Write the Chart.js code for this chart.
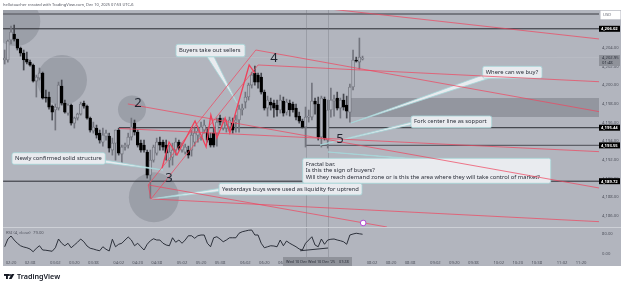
<!DOCTYPE html>
<html>
<head>
<meta charset="utf-8">
<style>
  html, body { margin: 0; padding: 0; background: #fff; }
  #wrap { width: 625px; height: 287px; position: relative; overflow: hidden; }
</style>
<script src="https://cdn.jsdelivr.net/npm/chart.js@4"></script>
</head>
<body>
<div id="wrap"><canvas id="chart" width="625" height="287"></canvas></div>
<script>
// 3 minute candles
const opens = [
  4202.68,4202.68,4204.82,4205.46,4204.92,4203.96,4203.42,4202.78,4202.46,4202.14,
  4200.43,4200.75,4201.28,4198.72,4198.72,4197.75,4197.33,4197.54,4199.89,4198.07,
  4197.00,4197.86,4195.93,4196.47,4196.90,4198.07,4197.75,4196.47,4195.08,4195.40,
  4194.86,4193.90,4194.54,4194.54,4193.05,4193.79,4195.19,4192.62,4193.37,4193.58,
  4194.44,4195.93,4194.97,4193.79,4193.58,4192.83,4190.37,4191.97,4192.72,4193.90,
  4193.90,4193.58,4191.97,4192.29,4193.05,4193.90,4193.05,4192.83,4193.05,4193.05,
  4193.90,4194.65,4194.44,4195.19,4194.97,4194.33,4194.86,4194.86,4196.47,4195.40,
  4195.40,4195.51,4195.93,4196.04,4196.26,4197.33,4198.18,4198.72,4200.00,4201.28,
  4201.07,4200.86,4199.25,4197.54,4198.18,4198.07,4197.86,4197.33,4198.29,4197.11,
  4198.07,4197.97,4197.54,4196.68,4196.15,4195.51,4196.58,4196.58,4198.29,4197.97,
  4194.44,4198.50,4194.12,4197.33,4198.29,4198.61,4197.54,4198.40,4197.86,4197.11,
  4199.79,4202.68,4202.46,4202.78
];
const highs = [
  4203.75,4204.82,4206.31,4206.42,4204.92,4204.07,4203.75,4203.53,4202.68,4202.25,
  4201.07,4201.82,4201.39,4199.47,4199.25,4197.86,4197.97,4200.32,4200.54,4198.40,
  4197.97,4197.97,4196.58,4197.00,4198.18,4198.29,4197.86,4196.58,4196.04,4195.72,
  4195.19,4195.40,4195.19,4194.86,4194.33,4195.19,4195.40,4193.58,4193.79,4194.86,
  4196.47,4196.26,4195.19,4194.12,4194.12,4193.05,4193.05,4193.58,4194.33,4194.44,
  4194.12,4194.12,4193.58,4193.79,4194.33,4194.12,4193.79,4193.69,4193.47,4195.19,
  4195.40,4195.51,4196.04,4196.26,4195.40,4194.86,4195.40,4196.47,4196.79,4196.47,
  4196.26,4196.58,4196.47,4196.79,4197.86,4197.97,4199.25,4200.21,4201.39,4202.03,
  4201.28,4201.28,4199.47,4198.82,4198.61,4198.40,4198.40,4198.93,4198.72,4198.50,
  4198.40,4198.18,4197.97,4197.11,4196.36,4197.65,4197.33,4200.21,4198.61,4198.72,
  4198.82,4198.72,4198.40,4199.68,4198.93,4199.25,4198.61,4199.04,4198.82,4200.11,
  4203.75,4202.99,4205.03,4203.10
];
const lows = [
  4202.25,4202.46,4204.39,4204.71,4203.75,4203.10,4201.61,4202.25,4202.03,4200.32,
  4198.72,4200.54,4198.50,4198.18,4197.43,4196.26,4195.19,4197.33,4197.86,4197.00,
  4196.79,4195.72,4195.40,4196.26,4196.79,4197.54,4196.36,4194.97,4194.86,4194.33,
  4193.79,4193.47,4194.12,4192.83,4192.51,4191.97,4192.51,4191.65,4193.05,4193.26,
  4194.12,4194.65,4193.37,4192.83,4192.83,4190.05,4187.91,4191.76,4192.51,4193.05,
  4193.05,4191.97,4191.22,4191.44,4192.51,4193.05,4192.83,4192.62,4192.19,4192.40,
  4193.47,4193.90,4194.12,4194.86,4193.90,4193.37,4193.37,4193.47,4195.72,4195.19,
  4194.97,4195.08,4194.86,4194.97,4194.97,4196.79,4197.54,4198.40,4199.68,4200.00,
  4199.68,4199.04,4197.33,4196.68,4197.33,4196.58,4196.68,4197.00,4196.68,4196.79,
  4196.68,4197.11,4196.26,4195.93,4195.40,4193.37,4196.04,4196.26,4196.90,4194.12,
  4193.37,4194.12,4193.26,4196.58,4196.68,4197.33,4196.47,4197.33,4196.47,4196.04,
  4199.47,4202.46,4201.71,4202.68
];
const closes = [
  4202.89,4204.71,4205.67,4204.92,4203.96,4203.42,4202.68,4202.46,4202.14,4200.43,
  4200.86,4201.28,4198.61,4198.61,4197.65,4197.11,4197.65,4200.00,4198.07,4197.11,
  4197.86,4195.93,4196.47,4196.90,4197.97,4197.75,4196.47,4195.19,4195.51,4194.65,
  4194.12,4194.65,4194.86,4193.26,4193.79,4195.19,4192.72,4193.37,4193.58,4194.44,
  4195.51,4194.97,4193.58,4193.05,4193.05,4190.37,4191.97,4193.37,4193.90,4193.58,
  4193.37,4192.72,4192.83,4193.05,4193.90,4193.26,4193.58,4193.37,4192.51,4194.65,
  4194.86,4195.08,4195.51,4195.72,4194.12,4193.58,4193.58,4196.04,4196.04,4196.04,
  4195.72,4196.26,4195.19,4196.26,4197.43,4197.54,4198.72,4200.00,4201.07,4200.32,
  4200.32,4199.25,4197.54,4198.40,4197.86,4197.54,4197.33,4198.40,4197.00,4198.18,
  4197.33,4197.33,4196.58,4196.15,4195.51,4196.58,4196.68,4198.29,4197.97,4194.44,
  4198.61,4194.33,4197.33,4198.40,4198.50,4197.54,4198.40,4197.65,4197.22,4199.79,
  4202.68,4202.57,4202.99,4202.89
];
const rsiValues = [
  29,60,72,56,43,33,28,25,20,9,
  23,33,16,15,13,11,25,60,43,33,
  43,25,36,47,60,49,32,23,20,16,
  13,29,19,12,59,29,39,43,56,68,
  56,33,43,29,16,39,53,61,56,56,
  43,36,33,65,47,56,43,56,73,73,
  63,73,76,76,43,29,65,69,60,49,
  56,65,65,65,83,89,92,95,96,76,
  76,43,25,29,33,32,29,56,33,52,
  43,36,29,20,16,43,56,69,36,29,
  60,39,56,59,60,56,53,49,39,76,
  80,83,81,79
];

// time axis, index of the candle the label sits under
const timeTicks = [2,8,16,22,28,36,42,48,56,62,68,76,82,88,116,122,128,136,142,148,156,162,168,176,182];
const timeLabels = ["02:20","02:38","03:02","03:20","03:38","04:02","04:20","04:38","05:02","05:20","05:38","06:02","06:20","06:38",
  "08:02","08:20","08:38","09:02","09:20","09:38","10:02","10:20","10:38","11:02","11:20"];
const priceTicks = [4186,4188,4190,4192,4194,4196,4198,4200,4202,4204];
const rsiTicks = [0,80];

// horizontal levels: [price, first candle index]
const levelBlack = [[4206.02,-0.5],[4195.44,36.1],[4189.72,-0.5]];
const levelGrey = [[4193.55,95.15]];
const levelTop = [[4207.6,-0.5]];
const priceTags = [4206.02,4195.44,4193.55,4189.72];
const lastPrice = 4202.95;
const axisEnd = 187.66;

// drawn trend lines, [[index, price], [index, price]]
const forkLines = [
  [[79.3,4203.75],[187.7,4197.16]],
  [[80,4202.15],[187.7,4200.36]],
  [[103.3,4208.11],[187.7,4204.93]],
  [[38.9,4197.98],[187.7,4188.99]],
  [[36.1,4195.36],[187.7,4192.88]],
  [[45.3,4189.32],[120.7,4184.82]],
  [[46.2,4187.82],[187.7,4185.39]],
  [[45.3,4189.32],[79.3,4203.75]],
  [[46.2,4187.82],[80,4202.15]],
  [[45.3,4189.32],[46.2,4187.82]]
];
const zigzag = [[49.7,4191.13],[51.9,4193.91],[54.4,4192.52],[60.1,4196.16],[63.6,4193.38],[65.1,4196.8],
  [67,4194.34],[69.6,4196.48],[71.1,4194.88],[77.2,4202.15],[79,4201.29]];
const rsiTrend = [[93.3,13],[102.1,24]];
const circles = [[3.5,4206.8,24.5],[18.1,4200.53,25],[40.2,4197.4,14],[47.1,4188.0,25]];
const zoneRange = [109,4198.61,4196.58];
const marker = [113.2,4185.25];
const rangeBars = [95.15,102.1];

const callouts = [
  { lines: ["Buyers take out sellers"], box: [176,44.3,245,56.7], base: [207,56.7,214,56.7], tip: [237,103] },
  { lines: ["Newly confirmed solid structure"], box: [12,152.7,105.3,164.3], base: [105,160,105,163], tip: [163,170] },
  { lines: ["Where can we buy?"], box: [482.7,66.3,542,78.3], base: [483,75,490,78], tip: [351,123] },
  { lines: ["Fork center line as sopport"], box: [411,116,491.7,127.7], base: [412,122,412,124.5], tip: [320,145] },
  { lines: ["Fractal bar.","Is this the sign of buyers?","Will they reach demand zone or is this the area where they will take control of market?"],
    box: [302.7,158.3,550.7,183.3], base: [405,158.5,412,158.5], tip: [328,152] },
  { lines: ["Yesterdays buys were used as liquidity for uptrend"], box: [219,183.3,362,195], base: [219,188.5,219,191.5], tip: [151,199] }
];
const waveNumbers = [["2",138,103],["3",169,178],["4",274,58],["5",340,139]];

const FONT = '"Noto Sans"';
const idx = opens.map((_, i) => i);

const levelSet = (list, color, width, order) => list.map(([price, start]) => ({
  type: "line",
  data: [{ x: start, y: price }, { x: axisEnd, y: price }],
  borderColor: color,
  borderWidth: width,
  pointRadius: 0,
  order,
}));

const segment = (pts, color, width, yAxisID) => ({
  type: "line",
  data: pts.map(([x, y]) => ({ x, y })),
  borderColor: color,
  borderWidth: width,
  pointRadius: 0,
  yAxisID: yAxisID || "y",
  order: 2,
});

const bodyDataset = {
  label: "bodies",
  data: idx.map((i) => ({ x: i, y: [opens[i], closes[i]] })),
  backgroundColor: idx.map((i) => (closes[i] >= opens[i] ? "#b2b5be" : "#000000")),
  borderColor: idx.map((i) => (closes[i] >= opens[i] ? "#6e7079" : "#000000")),
  borderWidth: 0.8,
  borderSkipped: false,
  barThickness: 2.8,
  grouped: false,
  order: 6,
};

const annotations = {
  id: "annotations",
  beforeDraw(chart) {
    const { ctx } = chart;
    ctx.save();
    ctx.fillStyle = "#ffffff";
    ctx.fillRect(0, 0, 625, 287);
    ctx.fillStyle = "#b2b5be";
    ctx.fillRect(3, 10, 618, 256);
    ctx.restore();
  },
  afterDatasetDraw(chart, args) {
    if (chart.data.datasets[args.index].label !== "bodies") return;
    const { ctx, scales, chartArea } = chart;
    ctx.save();
    // highlighted time range
    ctx.strokeStyle = "rgba(110,112,122,0.35)";
    ctx.lineWidth = 1;
    rangeBars.forEach((v) => {
      const x = Math.round(scales.x.getPixelForValue(v)) + 0.5;
      ctx.beginPath();
      ctx.moveTo(x, chartArea.top);
      ctx.lineTo(x, 266);
      ctx.stroke();
    });
    // pane separator
    ctx.strokeStyle = "#cdd0d6";
    ctx.beginPath();
    ctx.moveTo(3, 227.5);
    ctx.lineTo(621, 227.5);
    ctx.stroke();
    // callouts
    callouts.forEach((c) => {
      const [x0, y0, x1, y1] = c.box;
      ctx.fillStyle = "#e9ebef";
      ctx.strokeStyle = "#a5d6d8";
      ctx.lineWidth = 0.8;
      ctx.beginPath();
      ctx.moveTo(c.base[0], c.base[1]);
      ctx.lineTo(c.tip[0], c.tip[1]);
      ctx.lineTo(c.base[2], c.base[3]);
      ctx.closePath();
      ctx.fill();
      ctx.stroke();
      ctx.beginPath();
      ctx.roundRect(x0, y0, x1 - x0, y1 - y0, 2);
      ctx.fill();
      ctx.stroke();
      ctx.fillStyle = "#2a2e39";
      ctx.font = "5.8px " + FONT;
      ctx.textAlign = "left";
      ctx.textBaseline = "middle";
      const lineGap = 6.3;
      const startY = (y0 + y1) / 2 - ((c.lines.length - 1) * lineGap) / 2;
      c.lines.forEach((t, n) => ctx.fillText(t, x0 + 3, startY + n * lineGap));
    });
    ctx.restore();
  },
  afterDraw(chart) {
    const { ctx, scales } = chart;
    ctx.save();
    ctx.textBaseline = "middle";

    // wave numbers
    ctx.fillStyle = "#1e222d";
    ctx.font = "13px " + FONT;
    ctx.textAlign = "center";
    waveNumbers.forEach(([t, x, y]) => ctx.fillText(t, x, y));

    // price tags on the axis
    ctx.textAlign = "left";
    priceTags.forEach((p) => {
      const y = scales.y.getPixelForValue(p);
      ctx.fillStyle = "#000000";
      ctx.fillRect(599, y - 3, 21, 6);
      ctx.fillStyle = "#ffffff";
      ctx.font = "bold 4.2px " + FONT;
      ctx.fillText(p.toLocaleString("en-US", { minimumFractionDigits: 2 }), 601, y + 0.2);
    });
    const py = scales.y.getPixelForValue(lastPrice);
    ctx.fillStyle = "#8f929a";
    ctx.fillRect(599, py - 2.5, 21, 11);
    ctx.fillStyle = "#2a2e39";
    ctx.font = "4.2px " + FONT;
    ctx.fillText(lastPrice.toLocaleString("en-US", { minimumFractionDigits: 2 }), 602, py);
    ctx.fillText("01:48", 602, py + 5);

    // currency box
    ctx.fillStyle = "#ffffff";
    ctx.fillRect(600.5, 10.7, 20, 8.6);
    ctx.fillStyle = "#6a6d78";
    ctx.fillText("USD", 603, 15);

    // crosshair date tag
    ctx.fillStyle = "#8f929a";
    ctx.fillRect(283, 257, 69, 9);
    ctx.fillStyle = "#2a2e39";
    ctx.font = "3.8px " + FONT;
    ctx.fillText("Wed 10 Dec", 286, 262);
    ctx.fillText("Wed 10 Dec '25", 308, 262);
    ctx.fillText("07:28", 339, 262);

    // RSI legend
    ctx.fillStyle = "#50535e";
    ctx.font = "4.2px " + FONT;
    ctx.fillText("RSI (4, close)", 6, 232.6);
    ctx.fillText("79.00", 33, 232.6);

    // header
    ctx.fillStyle = "#50535e";
    ctx.font = "4px " + FONT;
    ctx.fillText("hellotoacher created with TradingView.com, Dec 10, 2025 07:53 UTC-6", 3, 5);

    // logo
    ctx.fillStyle = "#131722";
    ctx.fillRect(4, 274, 5, 1.9);
    ctx.fillRect(6, 274, 1.9, 5);
    ctx.beginPath();
    ctx.arc(10, 275, 1, 0, Math.PI * 2);
    ctx.fill();
    ctx.beginPath();
    ctx.moveTo(11.6, 274);
    ctx.lineTo(14.4, 274);
    ctx.lineTo(11.6, 279);
    ctx.lineTo(8.8, 279);
    ctx.closePath();
    ctx.fill();
    ctx.font = "600 7.2px " + FONT;
    ctx.fillText("TradingView", 17, 276.8);
    ctx.restore();
  },
};

new Chart(document.getElementById("chart"), {
  type: "bar",
  data: {
    datasets: [
      {
        type: "bubble",
        data: circles.map(([x, y, r]) => ({ x, y, r })),
        backgroundColor: "rgba(125,128,139,0.42)",
        borderWidth: 0,
        order: 10,
      },
      {
        type: "line",
        data: [{ x: zoneRange[0], y: zoneRange[1] }, { x: axisEnd, y: zoneRange[1] }],
        borderWidth: 0,
        pointRadius: 0,
        fill: { value: zoneRange[2] },
        backgroundColor: "rgba(105,107,117,0.42)",
        order: 9,
      },
      ...levelSet([[lastPrice, -0.5]], "rgba(196,199,206,0.6)", 0.6, 8),
      ...levelSet(levelTop, "#75777f", 2, 8),
      ...levelSet(levelBlack, "#2a2c33", 1, 8),
      ...levelSet(levelGrey, "#5f6169", 1.4, 8),
      {
        label: "wicks",
        data: idx.map((i) => ({ x: i, y: [lows[i], highs[i]] })),
        backgroundColor: idx.map((i) => (closes[i] >= opens[i] ? "#73757e" : "#45474e")),
        barThickness: 1,
        grouped: false,
        order: 7,
      },
      bodyDataset,
      ...forkLines.map((l) => segment(l, "rgba(240,70,95,0.8)", 0.9)),
      segment(zigzag, "#f0405a", 1.3),
      {
        type: "line",
        data: rsiValues.map((v, i) => ({ x: i, y: v })),
        yAxisID: "yRsi",
        borderColor: "#1e222d",
        borderWidth: 0.9,
        pointRadius: 0,
        order: 2,
      },
      segment(rsiTrend, "#1e222d", 0.9, "yRsi"),
      {
        type: "scatter",
        data: [{ x: marker[0], y: marker[1] }],
        pointRadius: 2.8,
        pointBackgroundColor: "#ffffff",
        pointBorderColor: "#b24bd6",
        pointBorderWidth: 1,
        clip: false,
        order: 1,
      },
    ],
  },
  options: {
    responsive: false,
    animation: false,
    events: [],
    // the big bubbles would otherwise pad the plot by their radius
    layout: { autoPadding: false, padding: { left: 3, top: 10, right: 4, bottom: 21 } },
    plugins: { legend: { display: false }, tooltip: { enabled: false } },
    scales: {
      x: {
        type: "linear",
        offset: false,
        min: -0.53,
        max: axisEnd,
        grid: { display: false, drawTicks: false },
        border: { display: false },
        afterBuildTicks: (axis) => {
          axis.ticks = timeTicks.map((v) => ({ value: v }));
        },
        afterFit: (axis) => {
          axis.height = 9;
          axis.paddingLeft = 0;
          axis.paddingRight = 0;
        },
        ticks: {
          autoSkip: false,
          maxRotation: 0,
          padding: 3,
          font: { family: "Noto Sans", size: 4.2 },
          color: "#50535e",
          callback: (value, i) => timeLabels[i],
        },
      },
      y: {
        position: "right",
        stack: "panes",
        stackWeight: 217,
        weight: 1,
        min: 4184.82,
        max: 4208.03,
        grid: { display: false, drawTicks: false },
        border: { display: false },
        afterBuildTicks: (axis) => {
          axis.ticks = priceTicks.map((v) => ({ value: v }));
        },
        afterFit: (axis) => {
          axis.width = 22;
          axis.paddingTop = 0;
          axis.paddingBottom = 0;
        },
        ticks: {
          autoSkip: false,
          padding: 3,
          font: { family: "Noto Sans", size: 4.2 },
          color: "#50535e",
          callback: (value) => value.toLocaleString("en-US", { minimumFractionDigits: 2 }),
        },
      },
      yRsi: {
        position: "right",
        stack: "panes",
        stackWeight: 30,
        weight: 2,
        min: -12,
        max: 108,
        grid: { display: false, drawTicks: false },
        border: { display: false },
        afterBuildTicks: (axis) => {
          axis.ticks = rsiTicks.map((v) => ({ value: v }));
        },
        afterFit: (axis) => {
          axis.width = 22;
          axis.paddingTop = 0;
          axis.paddingBottom = 0;
        },
        ticks: {
          autoSkip: false,
          padding: 3,
          font: { family: "Noto Sans", size: 4.2 },
          color: "#50535e",
          callback: (value) => value.toFixed(2),
        },
      },
    },
  },
  plugins: [annotations],
});
</script>
</body>
</html>
